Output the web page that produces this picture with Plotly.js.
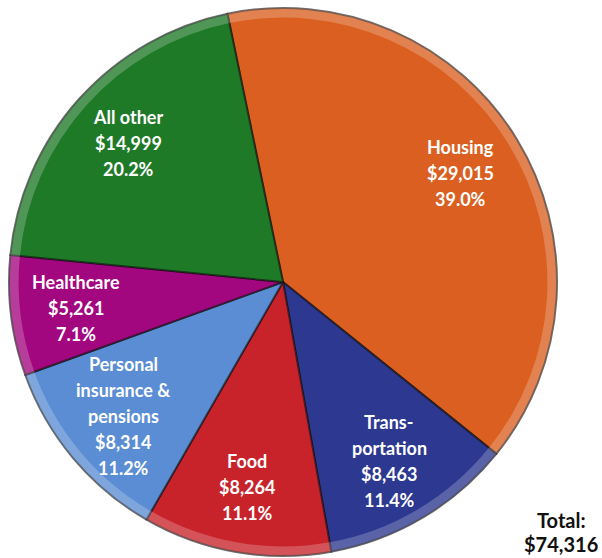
<!DOCTYPE html>
<html>
<head>
<meta charset="utf-8">
<script src="https://cdn.plot.ly/plotly-3.0.1.min.js"></script>
<style>
  html, body { margin: 0; padding: 0; background: #ffffff; }
  #chart { width: 602px; height: 558px; }
</style>
</head>
<body>
<div id="chart"></div>
<script>
// Average annual household spending by category
const categories = ["Housing", "Transportation", "Food", "Personal insurance & pensions", "Healthcare", "All other"];
const labelLines = [["Housing"], ["Trans-", "portation"], ["Food"], ["Personal", "insurance &", "pensions"], ["Healthcare"], ["All other"]];
const spending = [29015, 8463, 8264, 8314, 5261, 14999];
const sliceColors = ["#DA5F20", "#2D3890", "#C8232B", "#5A8DD3", "#A3077F", "#1F7A28"];

const total = spending.reduce((a, b) => a + b, 0);
const startAngle = -11.7;   // degrees clockwise from 12 o'clock
const W = 602, H = 558;
const dom = { x: [9 / W, 557 / W], y: [1 - 556 / H, 1 - 8 / H] };
const radiusPx = 274;
const cxPx = (dom.x[0] + dom.x[1]) / 2 * W;
const cyPx = (1 - (dom.y[0] + dom.y[1]) / 2) * H;

const fmtMoney = v => "$" + v.toLocaleString("en-US");

const traces = [
  {
    type: "pie",
    values: spending,
    labels: categories,
    sort: false,
    direction: "clockwise",
    rotation: startAngle,
    domain: dom,
    marker: { colors: sliceColors, line: { color: "rgba(15,15,15,0.6)", width: 2 } },
    textinfo: "none",
    hoverinfo: "label+value+percent",
    showlegend: false
  },
  {
    // soft highlight band round the outer edge
    type: "pie",
    values: spending,
    labels: categories,
    sort: false,
    direction: "clockwise",
    rotation: startAngle,
    domain: dom,
    hole: 0.965,
    marker: { colors: spending.map(() => "rgba(255,255,255,0.22)"), line: { width: 0 } },
    textinfo: "none",
    hoverinfo: "skip",
    showlegend: false
  }
];

// Slice labels placed at each slice's mid angle
const annotations = [];
const labelFont = { family: "Lato, 'Open Sans', sans-serif", size: 18, color: "#ffffff" };
const pitch = 26;
let acc = 0;
spending.forEach((v, i) => {
  const frac = v / total;
  const mid = (startAngle + (acc + frac / 2) * 360) * Math.PI / 180;
  acc += frac;
  const r = radiusPx * 0.76;
  const xPx = cxPx + r * Math.sin(mid);
  const yPx = cyPx - r * Math.cos(mid);
  const lines = labelLines[i].concat([fmtMoney(v), (frac * 100).toFixed(1) + "%"]);
  lines.forEach((txt, k) => {
    annotations.push({
      xref: "paper", yref: "paper",
      x: xPx / W, y: 1 - yPx / H,
      xanchor: "center", yanchor: "middle",
      yshift: -(k - (lines.length - 1) / 2) * pitch,
      text: "<b>" + txt + "</b>",
      showarrow: false,
      font: labelFont
    });
  });
});

// Total label
["Total:", fmtMoney(total)].forEach((txt, k) => {
  annotations.push({
    xref: "paper", yref: "paper",
    x: 561 / W, y: 1 - 532 / H,
    xanchor: "center", yanchor: "middle",
    yshift: -(k - 0.5) * 24,
    text: "<b>" + txt + "</b>",
    showarrow: false,
    font: { family: "Lato, 'Open Sans', sans-serif", size: 20, color: "#111111" }
  });
});

const layout = {
  width: W, height: H,
  margin: { l: 0, r: 0, t: 0, b: 0 },
  paper_bgcolor: "#ffffff",
  plot_bgcolor: "#ffffff",
  showlegend: false,
  annotations: annotations
};

Plotly.newPlot("chart", traces, layout, { displayModeBar: false, staticPlot: true });
</script>
</body>
</html>
